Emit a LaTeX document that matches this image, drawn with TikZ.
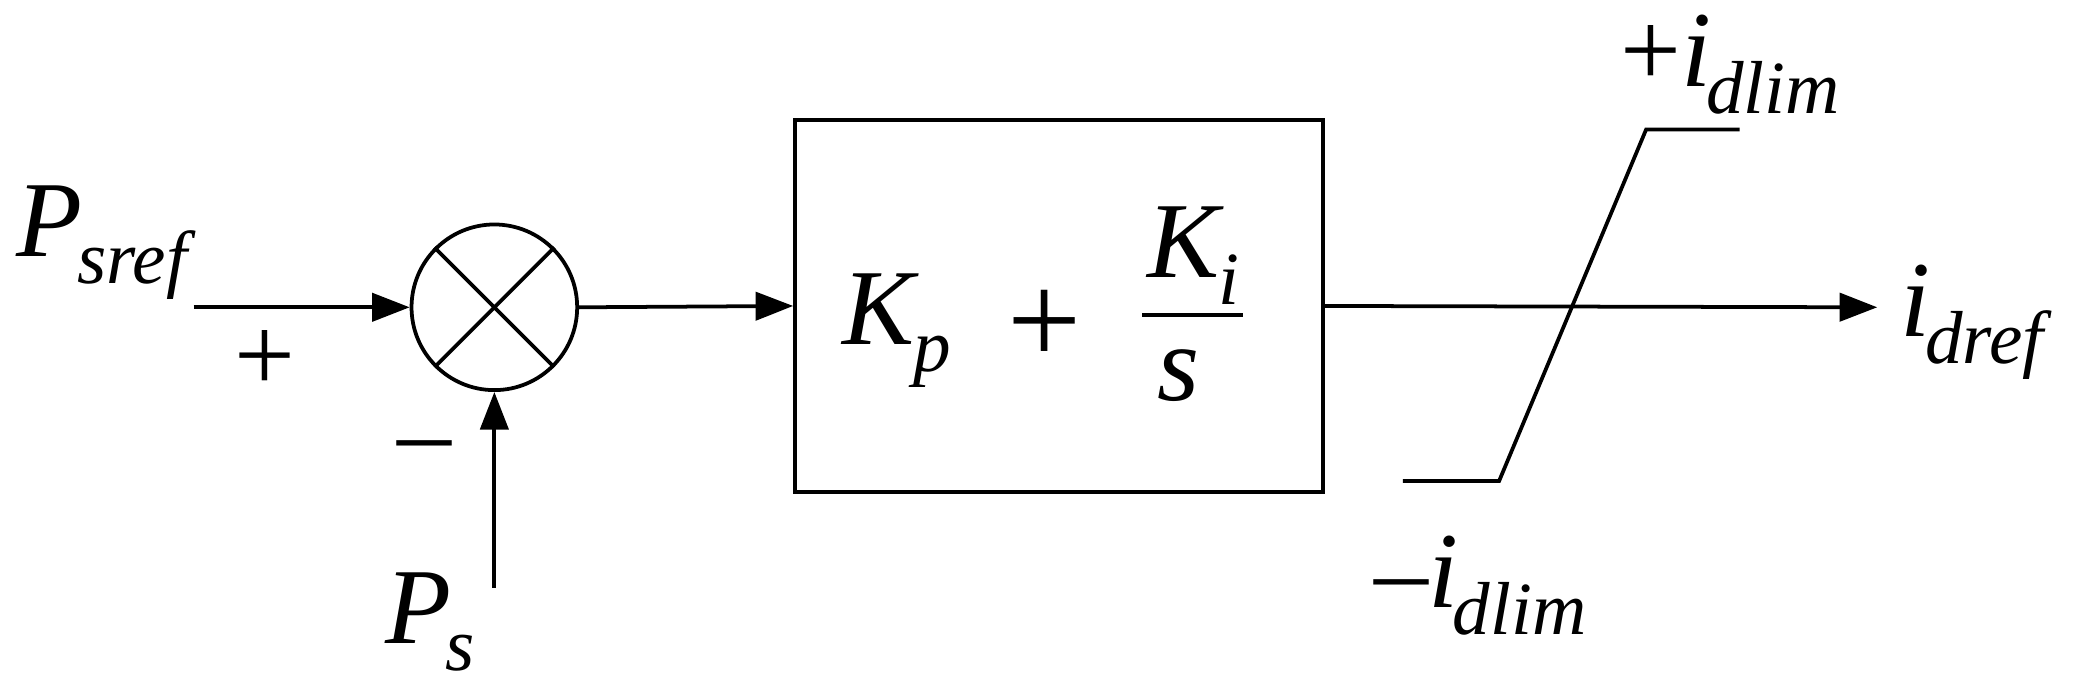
\documentclass[tikz,border=0pt]{standalone}
\usepackage{fontspec}
\setmainfont{Liberation Serif}
\usetikzlibrary{arrows.meta}
\newcommand{\vr}[2]{\textit{#1}\kern-0.05em\raisebox{-0.25em}{\fontsize{32}{34}\selectfont\textit{#2}}}
\begin{document}
\begin{tikzpicture}[x=0.02cm,y=-0.02cm,
  lbl/.style={inner sep=0pt,font=\fontsize{46}{50}\selectfont},
  sig/.style={line width=1.6pt,-{Triangle[length=16pt,width=12pt]}},
  ln/.style={line width=1.6pt}]
\useasboundingbox (0,0) rectangle (1568,516);
\node[lbl,anchor=base west] (psref) at (12,192) {\vr{P}{sref}};
\coordinate (in) at (145,230);
\node[circle,draw,line width=1.6pt,minimum size=2.48cm,inner sep=0pt] (sum) at (370,230) {};
\draw[ln] (sum.north west) -- (sum.south east) (sum.north east) -- (sum.south west);
\draw[sig] (in) -- (sum.west);
\node[lbl] (plus) at (198,270) {+};
\node[lbl] (minus) at (318,340) {\textendash};
\coordinate (psin) at (370,440);
\draw[sig] (psin) -- (sum.south);
\node[lbl,anchor=base] (ps) at (322,482) {\vr{P}{s}};
\node[draw,line width=1.6pt,minimum width=7.9cm,minimum height=5.56cm] (pi) at (792.5,229) {};
\draw[sig] (sum.east) -- (pi.west);
\node[lbl,anchor=base west] (kp) at (630,258) {\vr{K}{p}};
\node[lbl,font=\fontsize{56}{60}\selectfont] (pp) at (782,245) {+};
\node[lbl,anchor=base] (ki) at (893,208) {\vr{K}{i}};
\draw[ln] (855,236) -- (930,236);
\node[lbl,anchor=base] (s) at (882,300) {\textit{s}};
\coordinate (out) at (1405,230);
\draw[sig] (pi.east) -- (out);
\node[lbl,anchor=base west] (idref) at (1422,252) {\vr{i}{dref}};
\draw[ln] (1050,360) -- (1122,360) -- (1232,97) -- (1302,97);
\node[lbl,anchor=base] (pl) at (1295,65) {+\vr{i}{dlim}};
\node[lbl,anchor=base] (ml) at (1108,455) {\textendash\vr{i}{dlim}};
\end{tikzpicture}
\end{document}
